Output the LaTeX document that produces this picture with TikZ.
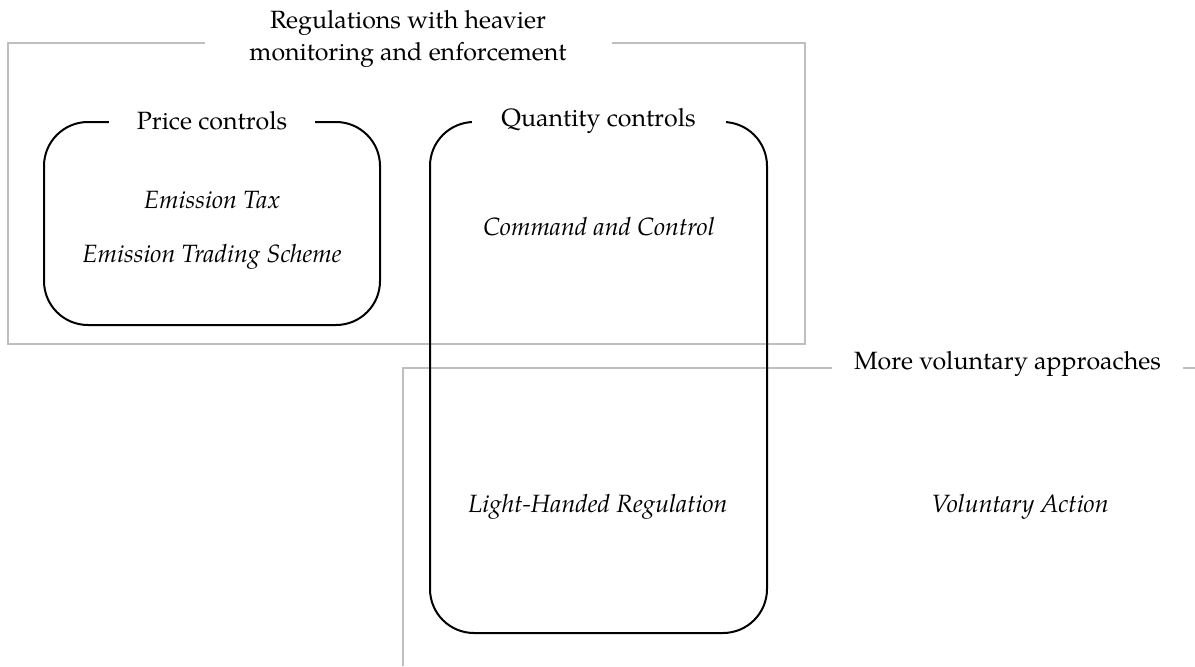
\documentclass[tikz,border=0pt]{standalone}
\usepackage{fontspec}
\setmainfont{TeX Gyre Pagella}
\begin{document}
\begin{tikzpicture}[x=0.5pt,y=-0.5pt,
  font=\fontsize{12.5}{16}\selectfont,
  grayline/.style={draw=black!25,line width=1pt},
  blackbox/.style={draw,line width=1pt,rounded corners=22pt,inner sep=0pt},
  gaptitle/.style={fill=white,inner sep=2pt},
  example/.style={font=\fontsize{12.5}{16}\selectfont\itshape}]
\useasboundingbox (0,0) rectangle (1195,666);
\draw[grayline] (8,43) rectangle (805,344);
\draw[grayline] (403,666) -- (403,368) -- (1195,368);
\node[gaptitle,minimum width=203.5pt,align=center] (heavytitle) at (408,38.5) {Regulations with heavier\\monitoring and enforcement};
\node[gaptitle,minimum width=175.5pt] (voltitle) at (1007.5,364) {More voluntary approaches};
\node[blackbox,minimum width=168pt,minimum height=101.5pt] (price) at (212,223.5) {};
\node[blackbox,minimum width=168.5pt,minimum height=255.5pt] (quantity) at (598.5,377.5) {};
\node[gaptitle,minimum width=103pt] (pricetitle) at (price.north) {Price controls};
\node[gaptitle,minimum width=127pt] (quantitytitle) at (quantity.north) {Quantity controls};
\node[example] (tax) at (212,200) {Emission Tax};
\node[example] (trading) at (212,257) {Emission Trading Scheme};
\node[example] (command) at (599,227) {Command and Control};
\node[example] (light) at (598,507) {Light-Handed Regulation};
\node[example] (voluntary) at (1020,507) {Voluntary Action};
\end{tikzpicture}
\end{document}
